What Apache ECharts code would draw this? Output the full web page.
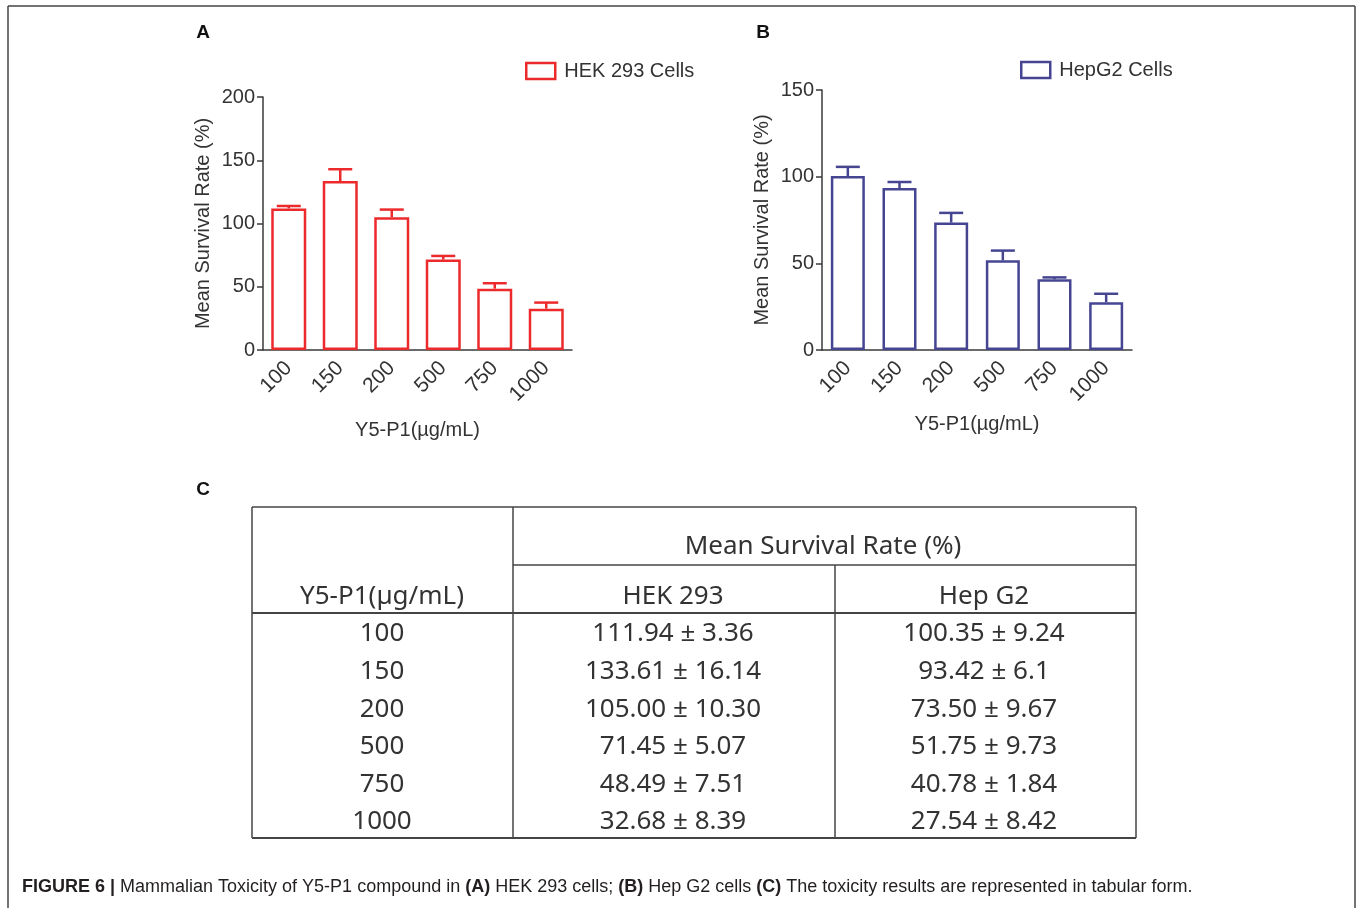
<!DOCTYPE html>
<html>
<head>
<meta charset="utf-8">
<script src="https://cdn.jsdelivr.net/npm/echarts@6/dist/echarts.min.js"></script>
<style>
  html, body { margin: 0; padding: 0; background: #fff; }
  #main { width: 1358px; height: 908px; }
</style>
</head>
<body>
<div id="main"></div>
<script>
// doses (µg/mL)
const doses = ['100', '150', '200', '500', '750', '1000']

// HEK 293 cells
const hekMean = [111.94, 133.61, 105.00, 71.45, 48.49, 32.68]
const hekSd = ['3.36', '16.14', '10.30', '5.07', '7.51', '8.39']
const hekErr = [1.9, 9.3, 6.0, 2.9, 4.3, 4.8] // error bars as drawn

// Hep G2 cells
const hepMean = [100.35, 93.42, 73.50, 51.75, 40.78, 27.54]
const hepSd = ['9.24', '6.1', '9.67', '9.73', '1.84', '8.42']
const hepErr = [5.3, 3.5, 5.6, 5.6, 1.1, 4.9]

const RED = '#ec2a2c'
const BLUE = '#464592'
const AXIS = '#3a3a3a'
const TXT = '#333'
const FONT = "'Liberation Sans', Arial, sans-serif"
const TFONT = "'Noto Sans', sans-serif"

const chartDom = document.getElementById('main')
const myChart = echarts.init(chartDom)

function xAxisFor(gridIndex, gap) {
  return {
    type: 'category',
    gridIndex: gridIndex,
    data: doses,
    name: 'Y5-P1(µg/mL)',
    nameLocation: 'middle',
    nameGap: gap,
    nameTextStyle: { fontFamily: FONT, fontSize: 20, color: TXT },
    axisLine: { lineStyle: { color: AXIS, width: 1.5 } },
    axisTick: { alignWithLabel: true, length: 7, lineStyle: { color: AXIS, width: 1.5 } },
    axisLabel: { rotate: 45, fontFamily: FONT, fontSize: 21, color: TXT, margin: 15 }
  }
}

function yAxisFor(gridIndex, max) {
  return {
    type: 'value',
    gridIndex: gridIndex,
    min: 0,
    max: max,
    interval: 50,
    name: 'Mean Survival Rate (%)',
    nameLocation: 'middle',
    nameGap: 50,
    nameTextStyle: { fontFamily: FONT, fontSize: 20, color: TXT },
    splitLine: { show: false },
    axisLine: { show: true, lineStyle: { color: AXIS, width: 1.5 } },
    axisTick: { show: true, length: 6, lineStyle: { color: AXIS, width: 1.5 } },
    axisLabel: { fontFamily: FONT, fontSize: 20, color: TXT, margin: 8 }
  }
}

function errorSeries(idx, means, errs, color) {
  return {
    type: 'custom',
    xAxisIndex: idx,
    yAxisIndex: idx,
    silent: true,
    z: 5,
    data: means.map((m, i) => [i, m, errs[i]]),
    encode: { x: 0, y: 1 },
    renderItem: function (params, api) {
      const x = api.value(0)
      const m = api.value(1)
      const e = api.value(2)
      const p0 = api.coord([x, m])
      const p1 = api.coord([x, m + e])
      const hw = 12
      const st = { stroke: color, lineWidth: 2.5 }
      return {
        type: 'group',
        children: [
          { type: 'line', shape: { x1: p0[0], y1: p0[1], x2: p1[0], y2: p1[1] }, style: st },
          { type: 'line', shape: { x1: p1[0] - hw, y1: p1[1], x2: p1[0] + hw, y2: p1[1] }, style: st }
        ]
      }
    }
  }
}

// table rows
const rowY0 = 634
const rowStep = 37.6
const colX = [382, 673, 984]
const tableTexts = []
doses.forEach((d, i) => {
  const y = rowY0 + i * rowStep
  const cells = [d, hekMean[i].toFixed(2) + ' ± ' + hekSd[i], hepMean[i].toFixed(2) + ' ± ' + hepSd[i]]
  cells.forEach((c, j) => {
    tableTexts.push({
      type: 'text', x: colX[j], y: y,
      style: { text: c, fontFamily: TFONT, fontSize: 26, fill: TXT, align: 'center', verticalAlign: 'middle' }
    })
  })
})

function hline(x1, x2, y, w) {
  return { type: 'line', shape: { x1: x1, y1: y, x2: x2, y2: y }, style: { stroke: '#444', lineWidth: w || 1.5 } }
}
function vline(x, y1, y2, w) {
  return { type: 'line', shape: { x1: x, y1: y1, x2: x, y2: y2 }, style: { stroke: '#444', lineWidth: w || 1.5 } }
}

const headTexts = [
  { t: 'Mean Survival Rate (%)', x: 823, y: 547 },
  { t: 'Y5-P1(µg/mL)', x: 382, y: 597 },
  { t: 'HEK 293', x: 673, y: 597 },
  { t: 'Hep G2', x: 984, y: 597 }
].map(h => ({
  type: 'text', x: h.x, y: h.y,
  style: { text: h.t, fontFamily: TFONT, fontSize: 26, fill: TXT, align: 'center', verticalAlign: 'middle' }
}))

const panelLetters = [
  { t: 'A', x: 203, y: 33 },
  { t: 'B', x: 763, y: 33 },
  { t: 'C', x: 203, y: 490 }
].map(p => ({
  type: 'text', x: p.x, y: p.y,
  style: { text: p.t, fontFamily: FONT, fontSize: 19, fontWeight: 'bold', fill: '#111', align: 'center', verticalAlign: 'middle' }
}))

myChart.setOption({
  animation: false,
  backgroundColor: '#fff',
  legend: [
    {
      left: 520, top: 56,
      icon: 'rect',
      itemWidth: 29, itemHeight: 16, itemGap: 10,
      textStyle: { fontFamily: FONT, fontSize: 20, color: TXT, padding: [0, 0, 0, 4] },
      data: [{ name: 'HEK 293 Cells', itemStyle: { color: '#fff', borderColor: RED, borderWidth: 2.5 } }]
    },
    {
      left: 1015, top: 55,
      icon: 'rect',
      itemWidth: 29, itemHeight: 16, itemGap: 10,
      textStyle: { fontFamily: FONT, fontSize: 20, color: TXT, padding: [0, 0, 0, 4] },
      data: [{ name: 'HepG2 Cells', itemStyle: { color: '#fff', borderColor: BLUE, borderWidth: 2.5 } }]
    }
  ],
  grid: [
    { left: 263, top: 97, width: 309, height: 253 },
    { left: 822, top: 90, width: 310, height: 260 }
  ],
  xAxis: [xAxisFor(0, 70), xAxisFor(1, 64)],
  yAxis: [yAxisFor(0, 200), yAxisFor(1, 150)],
  series: [
    {
      name: 'HEK 293 Cells',
      type: 'bar',
      xAxisIndex: 0, yAxisIndex: 0,
      barWidth: 35,
      data: hekMean,
      itemStyle: { color: '#fff', borderColor: RED, borderWidth: 2.5 }
    },
    errorSeries(0, hekMean, hekErr, RED),
    {
      name: 'HepG2 Cells',
      type: 'bar',
      xAxisIndex: 1, yAxisIndex: 1,
      barWidth: 34,
      data: hepMean,
      itemStyle: { color: '#fff', borderColor: BLUE, borderWidth: 2.5 }
    },
    errorSeries(1, hepMean, hepErr, BLUE)
  ],
  graphic: [
    // figure frame
    hline(8, 1355, 6, 1.5),
    vline(8, 6, 908, 1.5),
    vline(1355, 6, 908, 1.5),
    ...panelLetters,
    // table grid
    hline(252, 1136, 507),
    vline(252, 507, 838),
    vline(513, 507, 838),
    vline(1136, 507, 838),
    hline(513, 1136, 565),
    vline(835, 565, 838),
    hline(252, 1136, 613, 2),
    hline(252, 1136, 838, 2),
    ...headTexts,
    ...tableTexts,
    // caption
    {
      type: 'text', x: 22, y: 887,
      style: {
        text: '{b|FIGURE 6 |} Mammalian Toxicity of Y5-P1 compound in {b|(A)} HEK 293 cells; {b|(B)} Hep G2 cells {b|(C)} The toxicity results are represented in tabular form.',
        fontFamily: "'Liberation Sans Narrow', 'Liberation Sans', Arial, sans-serif",
        fontSize: 18,
        fill: '#231f20',
        verticalAlign: 'middle',
        rich: {
          b: { fontFamily: "'Liberation Sans Narrow', 'Liberation Sans', Arial, sans-serif", fontSize: 18, fontWeight: 'bold', fill: '#231f20' }
        }
      }
    }
  ]
})
</script>
</body>
</html>
